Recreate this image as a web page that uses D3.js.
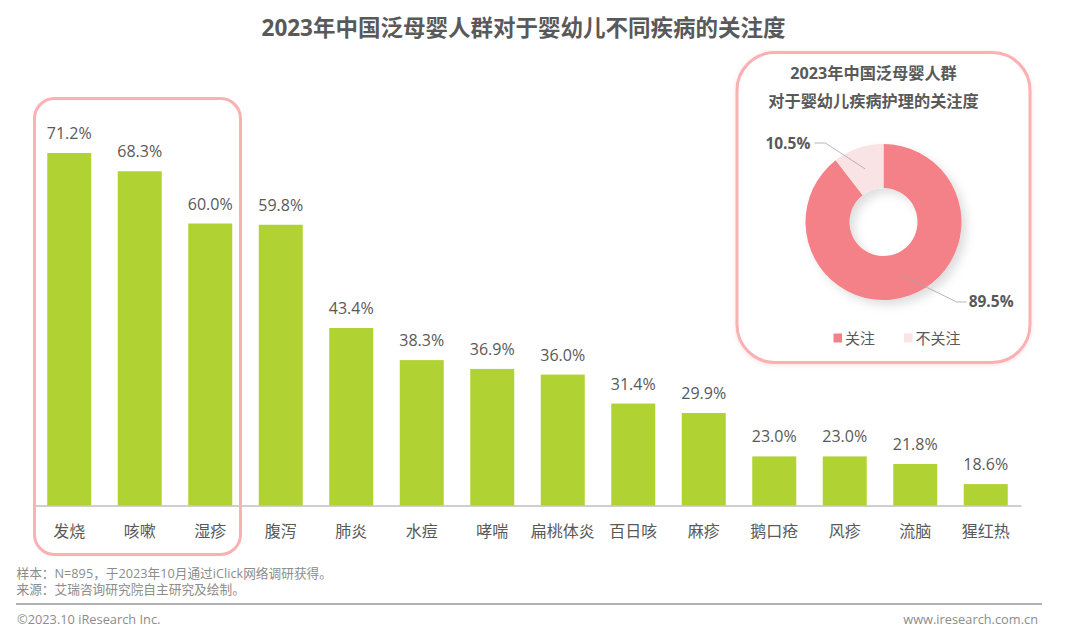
<!DOCTYPE html>
<meta charset="utf-8">
<style>
body{
  margin:0;
  background:#fff;
}
svg{
  display:block;
}
text{
  font-family:"Open Sans","Noto Sans CJK SC",sans-serif;
  fill:#595959;
}
.axis path{
  stroke:#bfbfbf;
  stroke-width:1.5px;
}
.axis line{
  display:none;
}
.frame{
  fill:none;
  stroke:#fbb1b3;
  stroke-width:3px;
}
.note{
  font-size:12.7px;
  fill:#8c8c8c;
}
.foot{
  font-size:12.8px;
  fill:#8c8c8c;
}
</style>
<body>
<script src="https://cdn.jsdelivr.net/npm/d3@7"></script>
<script>
var categories = ['发烧','咳嗽','湿疹','腹泻','肺炎','水痘','哮喘','扁桃体炎','百日咳','麻疹','鹅口疮','风疹','流脑','猩红热'];
var values = [71.2,68.3,60.0,59.8,43.4,38.3,36.9,36.0,31.4,29.9,23.0,23.0,21.8,18.6];
var donutLabels = ['关注','不关注'];
var donutValues = [89.5,10.5];
var donutColors = ['#f48188','#f9e3e5'];
var title = '2023年中国泛母婴人群对于婴幼儿不同疾病的关注度';
var donutTitle = ['2023年中国泛母婴人群','对于婴幼儿疾病护理的关注度'];
var notes = ['样本：N=895，于2023年10月通过iClick网络调研获得。','来源：艾瑞咨询研究院自主研究及绘制。'];

var svg = d3.select('body').append('svg').attr('width',1080).attr('height',634);

var defs = svg.append('defs');
var soft = defs.append('filter').attr('id','soft').attr('x','-20%').attr('y','-20%').attr('width','150%').attr('height','150%');
soft.append('feDropShadow').attr('dx',5).attr('dy',5).attr('stdDeviation',5).attr('flood-color','#000').attr('flood-opacity',0.13);
var glow = defs.append('filter').attr('id','glow').attr('x','-5%').attr('y','-5%').attr('width','110%').attr('height','110%');
glow.append('feDropShadow').attr('dx',0).attr('dy',1).attr('stdDeviation',2).attr('flood-color','#f58289').attr('flood-opacity',0.25);

svg.append('text').attr('x',523.5).attr('y',36).attr('text-anchor','middle')
  .style('font-size','22.5px').style('font-weight',700).text(title);

// the value axis of the original does not start at zero
var x = d3.scaleBand().domain(categories).range([34,1021]).paddingInner(0.376).paddingOuter(0.188);
var y = d3.scaleLinear().domain([15.2,71.2]).range([505.5,153]);

svg.append('g').attr('class','axis').attr('transform','translate(0,505.5)')
  .call(d3.axisBottom(x).tickSize(0).tickSizeOuter(0).tickPadding(20))
  .call(function(g){
    g.selectAll('text').attr('fill',null).style('font-size','16px');
    g.select('.domain').attr('fill','none');
  });

svg.append('g').selectAll('rect').data(values).enter().append('rect')
  .attr('x',function(d,i){ return x(categories[i]); })
  .attr('y',function(d){ return y(d); })
  .attr('width',x.bandwidth())
  .attr('height',function(d){ return y.range()[0]-y(d); })
  .attr('fill','#b0d232');

svg.append('g').selectAll('text').data(values).enter().append('text')
  .attr('x',function(d,i){ return x(categories[i])+x.bandwidth()/2; })
  .attr('y',function(d){ return y(d)-14; })
  .attr('text-anchor','middle')
  .style('font-size','16px')
  .text(function(d){ return d.toFixed(1)+'%'; });

svg.append('rect').attr('class','frame').attr('x',34.5).attr('y',98.5).attr('width',206).attr('height',456).attr('rx',20);

// donut card
svg.append('rect').attr('x',737).attr('y',52.5).attr('width',293).attr('height',310).attr('rx',38)
  .attr('fill','#fff').attr('stroke','#fbb1b3').attr('stroke-width',3).attr('filter','url(#glow)');

svg.selectAll('.dtitle').data(donutTitle).enter().append('text').attr('class','dtitle')
  .attr('x',873.5).attr('y',function(d,i){ return 79+i*28; }).attr('text-anchor','middle')
  .style('font-size','16.2px').style('font-weight',700).text(function(d){ return d; });

var cx = 883.5, cy = 222;
var pie = d3.pie().sort(null);
var arc = d3.arc().innerRadius(34).outerRadius(78);
var donut = svg.append('g').attr('transform','translate('+cx+','+cy+')');
donut.append('g').attr('filter','url(#soft)').selectAll('path').data(pie(donutValues)).enter().append('path')
  .attr('d',arc)
  .attr('fill',function(d,i){ return donutColors[i]; });

// leader lines start at the slice centroid, elbow then run out to the label
var leaders = [{dx:55,dy:27,run:10,gap:2,anchor:'start'},{dx:-40,dy:-26,run:-11,gap:-4,anchor:'end'}];
var line = d3.line();
donut.selectAll('.leader').data(pie(donutValues)).enter().append('path').attr('class','leader')
  .attr('fill','none').attr('stroke','#a6a6a6').attr('stroke-width',0.8)
  .attr('d',function(d,i){
    var c = arc.centroid(d), l = leaders[i];
    return line([c,[c[0]+l.dx,c[1]+l.dy],[c[0]+l.dx+l.run,c[1]+l.dy]]);
  });
donut.selectAll('.plabel').data(pie(donutValues)).enter().append('text').attr('class','plabel')
  .attr('x',function(d,i){ var l = leaders[i]; return arc.centroid(d)[0]+l.dx+l.run+l.gap; })
  .attr('y',function(d,i){ return arc.centroid(d)[1]+leaders[i].dy+5.5; })
  .attr('text-anchor',function(d,i){ return leaders[i].anchor; })
  .style('font-size','15.5px').style('font-weight',700)
  .text(function(d,i){ return donutValues[i].toFixed(1)+'%'; });

var legendX = [833.5,904];
var legend = svg.selectAll('.lg').data(donutLabels).enter().append('g').attr('class','lg')
  .attr('transform',function(d,i){ return 'translate('+legendX[i]+',338)'; });
legend.append('rect').attr('y',-4.5).attr('width',8.5).attr('height',9)
  .attr('fill',function(d,i){ return donutColors[i]; });
legend.append('text').attr('x',11.5).attr('y',5.5).style('font-size','15px').text(function(d){ return d; });

// footer
svg.selectAll('.note').data(notes).enter().append('text').attr('class','note')
  .attr('x',16.5).attr('y',function(d,i){ return 578+i*16; }).text(function(d){ return d; });
svg.append('line').attr('x1',16).attr('x2',1042).attr('y1',604).attr('y2',604).attr('stroke','#999').attr('stroke-width',1.5);
svg.append('text').attr('class','foot').attr('x',17).attr('y',623.5).text('©2023.10 iResearch Inc.');
svg.append('text').attr('class','foot').attr('x',1038).attr('y',623.5).attr('text-anchor','end').text('www.iresearch.com.cn');
</script>
</body>
